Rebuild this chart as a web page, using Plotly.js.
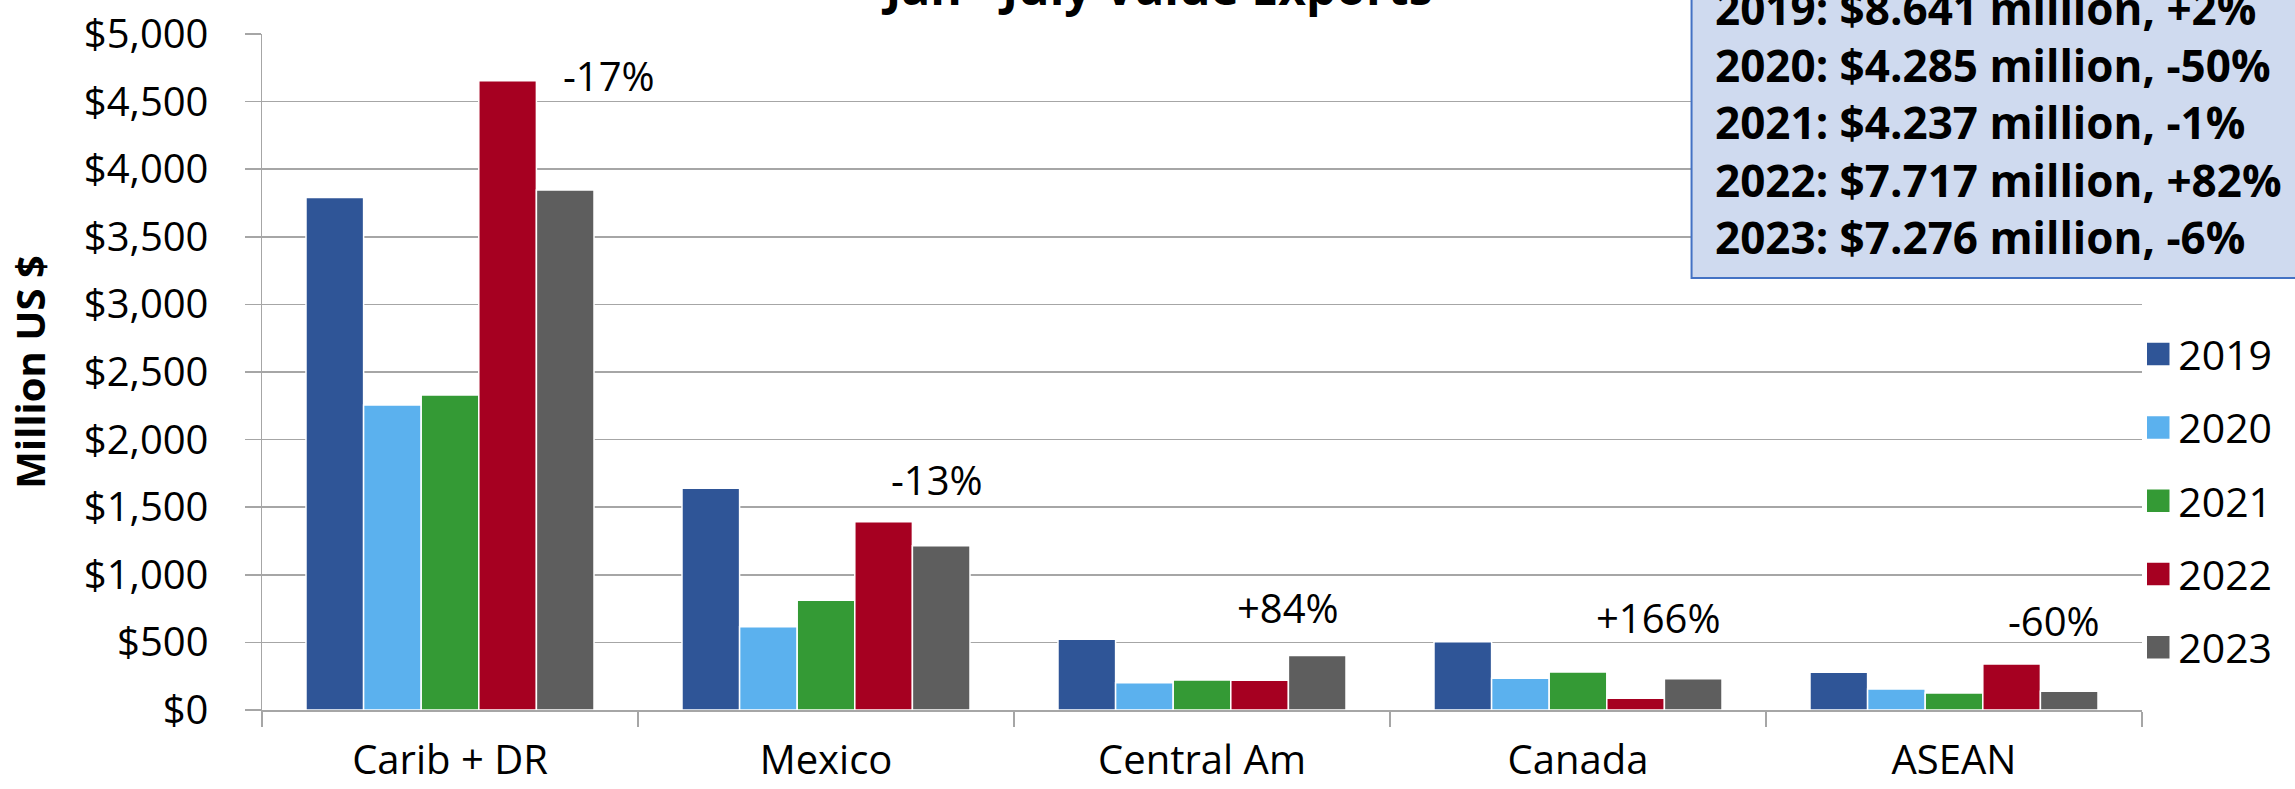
<!DOCTYPE html>
<html>
<head>
<meta charset="utf-8">
<script src="https://cdn.plot.ly/plotly-3.0.1.min.js"></script>
<style>
  html, body { margin: 0; padding: 0; background: #ffffff; }
  #chart { width: 2295px; height: 789px; }
</style>
</head>
<body>
<div id="chart"></div>
<script>
// ---- data ----
const categories = ['Carib + DR', 'Mexico', 'Central Am', 'Canada', 'ASEAN'];
const years = ['2019', '2020', '2021', '2022', '2023'];
const v2019 = [3790, 1640, 523, 505, 279];
const v2020 = [2256, 616, 202, 234, 155];
const v2021 = [2330, 811, 222, 281, 126];
const v2022 = [4654, 1393, 220, 87, 340];
const v2023 = [3846, 1215, 404, 231, 138];
const changeLabels = ['-17%', '-13%', '+84%', '+166%', '-60%'];
const summaryLines = [
  '2019: $8.641 million, +2%',
  '2020: $4.285 million, -50%',
  '2021: $4.237 million, -1%',
  '2022: $7.717 million, +82%',
  '2023: $7.276 million, -6%'
];
const chartTitle = 'Jan - July Value Exports';
const yTitle = 'Million US $';

// ---- styling ----
const seriesValues = [v2019, v2020, v2021, v2022, v2023];
const colors = ['#2F5597', '#5BB1EE', '#349A35', '#A60021', '#5E5E5E'];
const FONT = 'Open Sans, Noto Sans, sans-serif';
const GRID = '#A6A6A6';

// label placement: offset within the category (in category units) and height (data units)
const labelDx = [0.424, 0.295, 0.229, 0.215, 0.267];
const labelY = [4696, 1708, 758, 684, 662];

const traces = years.map((yr, i) => ({
  type: 'bar',
  name: yr,
  legendgroup: yr,
  x: categories,
  y: seriesValues[i],
  marker: { color: colors[i], line: { color: '#ffffff', width: 1.5 } },
  hoverinfo: 'x+y+name'
}));

const annotations = changeLabels.map((t, i) => ({
  xref: 'x', yref: 'y',
  x: i + labelDx[i], y: labelY[i],
  text: t, showarrow: false,
  xanchor: 'center', yanchor: 'middle',
  font: { family: FONT, size: 40, color: '#000000' }
}));

annotations.push({
  xref: 'paper', yref: 'paper',
  x: 0.7716, y: 0.652,
  xanchor: 'left', yanchor: 'bottom', align: 'left',
  text: summaryLines.join('<br>'),
  showarrow: false,
  font: { family: FONT, size: 44, color: '#000000', weight: 'bold' }
});

const layout = {
  width: 2295, height: 789,
  paper_bgcolor: '#ffffff', plot_bgcolor: '#ffffff',
  margin: { l: 262, r: 153, t: 34, b: 79, pad: 0 },
  barmode: 'group',
  bargap: 0.234,
  bargroupgap: 0,
  font: { family: FONT, size: 40, color: '#000000' },
  title: {
    text: chartTitle,
    xref: 'container', yref: 'container',
    x: 0.505, xanchor: 'center',
    y: 0.9937, yanchor: 'bottom',
    font: { family: FONT, size: 48, color: '#000000', weight: 'bold' }
  },
  xaxis: {
    type: 'category',
    showline: true, linecolor: GRID, linewidth: 2,
    ticks: 'outside', tickson: 'boundaries', ticklen: 15, tickcolor: GRID, tickwidth: 1.5,
    showgrid: false, zeroline: false,
    tickfont: { family: FONT, size: 40, color: '#000000' },
    ticklabelstandoff: 14,
    automargin: false
  },
  yaxis: {
    range: [0, 5000],
    dtick: 500, tick0: 0,
    tickprefix: '$', tickformat: ',d',
    showline: true, linecolor: GRID, linewidth: 1.5,
    ticks: 'outside', ticklen: 16, tickcolor: GRID, tickwidth: 1.5,
    showgrid: true, gridcolor: GRID, gridwidth: 1.5,
    zeroline: false,
    tickfont: { family: FONT, size: 40, color: '#000000' },
    ticklabelstandoff: 28,
    automargin: false,
    title: {
      text: yTitle,
      standoff: 26,
      font: { family: FONT, size: 40, color: '#000000', weight: 'bold' }
    }
  },
  legend: {
    orientation: 'v',
    x: 0.998, xanchor: 'left',
    y: 0.5755, yanchor: 'top',
    bgcolor: 'rgba(0,0,0,0)',
    font: { family: FONT, size: 41, color: '#000000' },
    tracegroupgap: 17,
    itemclick: false, itemdoubleclick: false
  },
  shapes: [{
    type: 'rect', xref: 'paper', yref: 'paper',
    x0: 0.7604, x1: 1.3, y0: 0.639, y1: 1.2,
    fillcolor: '#CFDAEF',
    line: { color: '#4472C4', width: 2 },
    layer: 'above'
  }],
  annotations: annotations
};

Plotly.newPlot('chart', traces, layout, { displayModeBar: false, staticPlot: true }).then(gd => {
  // enlarge the legend swatches to match the reference's square keys
  gd.querySelectorAll('.legend .legendpoints path').forEach(p => {
    p.setAttribute('d', 'M12,12H-12V-12H12Z');
  });
});
</script>
</body>
</html>
